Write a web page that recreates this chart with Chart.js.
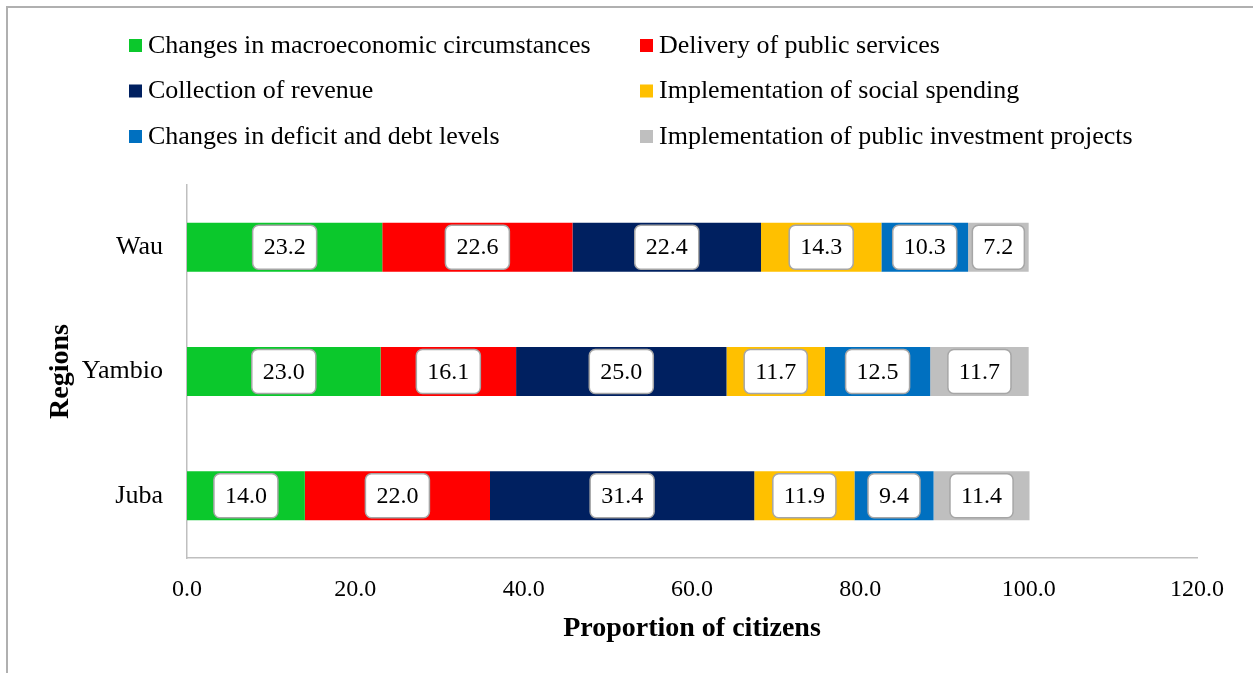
<!DOCTYPE html>
<html lang="en">
<head>
  <meta charset="UTF-8">
  <title>Proportion of citizens by region</title>
  <script src="https://cdn.jsdelivr.net/npm/chart.js"></script>
  <style>
    body { margin: 0; background: #fff; }
    canvas { display: block; }
  </style>
</head>
<body>
  <canvas id="chart" width="1253" height="673"></canvas>

  <script>
    const regions = ['Wau', 'Yambio', 'Juba'];
    const seriesNames = [
      'Changes in macroeconomic circumstances',
      'Delivery of public services',
      'Collection of revenue',
      'Implementation of social spending',
      'Changes in deficit and debt levels',
      'Implementation of public investment projects'
    ];
    const macroeconomic = [23.2, 23.0, 14.0];
    const publicServices = [22.6, 16.1, 22.0];
    const revenue = [22.4, 25.0, 31.4];
    const socialSpending = [14.3, 11.7, 11.9];
    const deficitDebt = [10.3, 12.5, 9.4];
    const investment = [7.2, 11.7, 11.4];
    const xTicks = [0, 20, 40, 60, 80, 100, 120];
    const colors = ['#0bc82c', '#ff0000', '#002060', '#ffc000', '#0070c0', '#bfbfbf'];

    const FONT = "'Liberation Serif', 'Times New Roman', serif";
    const seriesValues = [macroeconomic, publicServices, revenue, socialSpending, deficitDebt, investment];

    // outer frame (top and left edges only)
    const framePlugin = {
      id: 'frame',
      beforeDraw(chart) {
        const ctx = chart.ctx;
        ctx.save();
        ctx.strokeStyle = '#b0b0b0';
        ctx.lineWidth = 2;
        ctx.beginPath();
        ctx.moveTo(7, chart.height);
        ctx.lineTo(7, 7);
        ctx.lineTo(chart.width, 7);
        ctx.stroke();
        ctx.restore();
      }
    };

    // two-column legend above the plot
    const legendPlugin = {
      id: 'twoColLegend',
      afterDraw(chart) {
        const ctx = chart.ctx;
        const cols = [129, 640];
        const rows = [45, 90.5, 136];
        ctx.save();
        ctx.font = '26px ' + FONT;
        ctx.textBaseline = 'middle';
        ctx.textAlign = 'left';
        chart.data.datasets.forEach((ds, i) => {
          const x = cols[i % 2];
          const y = rows[Math.floor(i / 2)];
          ctx.fillStyle = ds.backgroundColor;
          ctx.fillRect(x, y - 6, 13, 13);
          ctx.fillStyle = '#000';
          ctx.fillText(ds.label, x + 19, y + 1);
        });
        ctx.restore();
      }
    };

    // value boxes centred on each bar segment
    const valueBoxPlugin = {
      id: 'valueBoxes',
      afterDatasetsDraw(chart) {
        const ctx = chart.ctx;
        ctx.save();
        ctx.font = '24px ' + FONT;
        ctx.textAlign = 'center';
        ctx.textBaseline = 'middle';
        chart.data.datasets.forEach((ds, di) => {
          const meta = chart.getDatasetMeta(di);
          meta.data.forEach((bar, i) => {
            const text = ds.data[i].toFixed(1);
            const cx = (bar.x + bar.base) / 2;
            const cy = bar.y;
            const w = ctx.measureText(text).width + 22;
            const h = 44;
            ctx.beginPath();
            ctx.roundRect(cx - w / 2, cy - h / 2, w, h, 6);
            ctx.fillStyle = '#fff';
            ctx.fill();
            ctx.strokeStyle = '#a6a6a6';
            ctx.lineWidth = 1.5;
            ctx.stroke();
            ctx.fillStyle = '#000';
            ctx.fillText(text, cx, cy + 1);
          });
        });
        ctx.restore();
      }
    };

    new Chart(document.getElementById('chart'), {
      type: 'bar',
      data: {
        labels: regions,
        datasets: seriesNames.map((name, i) => ({
          label: name,
          data: seriesValues[i],
          backgroundColor: colors[i],
          borderWidth: 0,
          categoryPercentage: 1,
          barPercentage: 0.394
        }))
      },
      options: {
        indexAxis: 'y',
        responsive: false,
        animation: false,
        layout: { padding: { top: 185, right: 56, bottom: 0, left: 0 } },
        plugins: {
          legend: { display: false },
          tooltip: { enabled: false }
        },
        scales: {
          x: {
            stacked: true,
            min: 0,
            max: 120,
            afterBuildTicks: s => { s.ticks = xTicks.map(v => ({ value: v })); },
            afterFit: s => { s.height = 115; },
            grid: { display: false, drawTicks: false },
            border: { display: true, color: '#bfbfbf', width: 1.5 },
            ticks: {
              padding: 17,
              color: '#000',
              font: { family: FONT, size: 24 },
              callback: v => v.toFixed(1)
            },
            title: {
              display: true,
              text: 'Proportion of citizens',
              color: '#000',
              font: { family: FONT, size: 28, weight: 'bold' },
              padding: { top: 0, bottom: 27 }
            }
          },
          y: {
            stacked: true,
            afterFit: s => { s.width = 187; },
            grid: { display: false, drawTicks: false },
            border: { display: true, color: '#bfbfbf', width: 1.5 },
            ticks: {
              padding: 24,
              color: '#000',
              font: { family: FONT, size: 26 }
            },
            title: {
              display: true,
              text: 'Regions',
              color: '#000',
              font: { family: FONT, size: 28, weight: 'bold' },
              padding: { top: 44, bottom: 0 }
            }
          }
        }
      },
      plugins: [framePlugin, legendPlugin, valueBoxPlugin]
    });
  </script>
</body>
</html>
